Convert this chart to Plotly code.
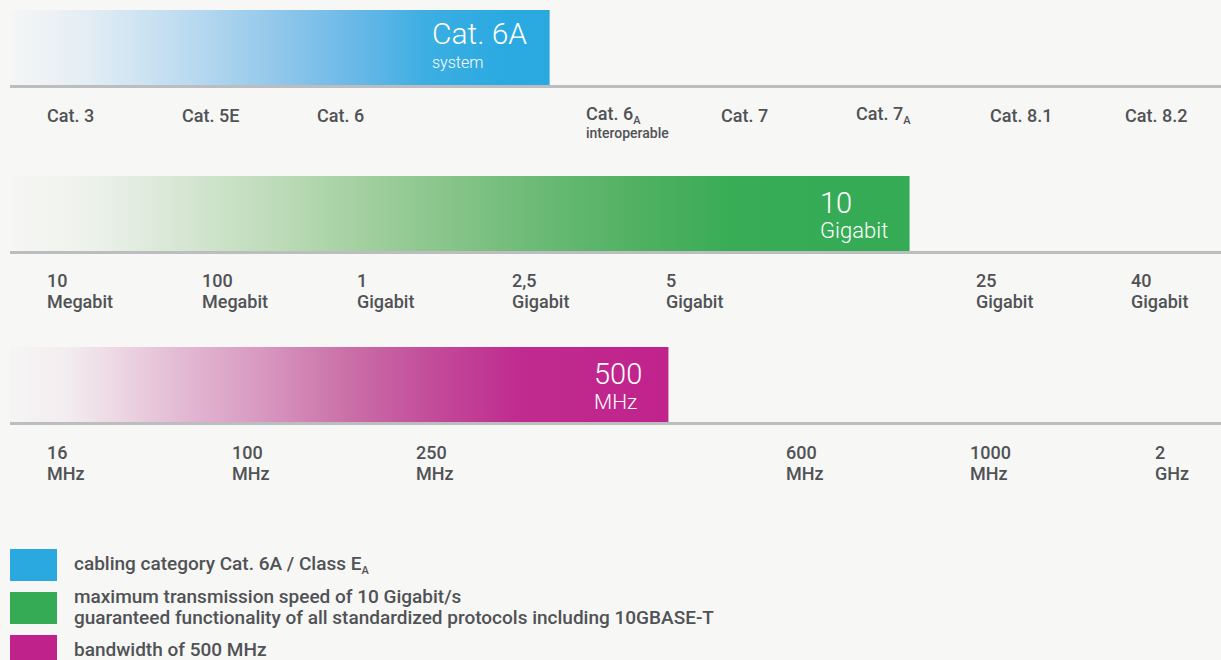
import plotly.graph_objects as go

W, H = 1221, 660
BG = '#f7f7f5'
TXT = '#505255'
FONT = 'Roboto'

# ---------------- data ----------------
# Row 1: cabling categories (slot index on the scale)
cat_slots = [0, 1, 2, 4, 5, 6, 7, 8]
cat_labels = ['Cat. 3', 'Cat. 5E', 'Cat. 6', 'Cat. 6<sub>A</sub>', 'Cat. 7',
              'Cat. 7<sub>A</sub>', 'Cat. 8.1', 'Cat. 8.2']
cat_notes = ['', '', '', 'interoperable', '', '', '', '']
cat_bar_end = 3.745
cat_bar_label = ['Cat. 6A', 'system']

# Row 2: transmission speed
speed_slots = [0, 1, 2, 3, 4, 6, 7]
speed_values = ['10', '100', '1', '2,5', '5', '25', '40']
speed_units = ['Megabit', 'Megabit', 'Gigabit', 'Gigabit', 'Gigabit', 'Gigabit', 'Gigabit']
speed_bar_end = 5.583
speed_bar_label = ['10', 'Gigabit']

# Row 3: bandwidth
bw_slots = [0, 1, 2, 4, 5, 6]
bw_values = ['16', '100', '250', '600', '1000', '2']
bw_units = ['MHz', 'MHz', 'MHz', 'MHz', 'MHz', 'GHz']
bw_bar_end = 3.376
bw_bar_label = ['500', 'MHz']

legend_texts = [
    ['cabling category Cat. 6A / Class E<sub>A</sub>'],
    ['maximum transmission speed of 10 Gigabit/s',
     'guaranteed functionality of all standardized protocols including 10GBASE-T'],
    ['bandwidth of 500 MHz'],
]

# ---------------- styles ----------------
blue_scale = [[0, '#f5f6f6'], [0.146, '#e3edf4'], [0.246, '#cde3f1'], [0.352, '#b6d8ef'],
              [0.51, '#8dc6ea'], [0.643, '#68b8e7'], [0.774, '#3caee2'], [0.907, '#2baae1'],
              [1, '#29a9e0']]
green_scale = [[0, '#f6f6f4'], [0.087, '#eef2ec'], [0.185, '#d8e7d5'], [0.315, '#b8d9b3'],
               [0.446, '#93c993'], [0.576, '#6ebb77'], [0.706, '#4eb061'], [0.804, '#38ac56'],
               [1, '#35ab55']]
pink_scale = [[0, '#f6f5f5'], [0.084, '#f3edf0'], [0.149, '#eedbe5'], [0.248, '#e4bdd6'],
              [0.38, '#d899c0'], [0.512, '#ca70a8'], [0.644, '#c24b99'], [0.775, '#c02b8f'],
              [1, '#c0238c']]
legend_colors = ['#29a9e0', '#35ab55', '#c0228c']

FIRST_PX = 47      # left edge of first scale label
START_PX = 10      # left edge of bar / baseline

rows = [
    dict(n=9, last_px=1125, top=10, bottom=85, scale=blue_scale, end=cat_bar_end,
         label=cat_bar_label, big=30, small=16, shift=-119, ybig=33, ysmall=62),
    dict(n=8, last_px=1131, top=176, bottom=251, scale=green_scale, end=speed_bar_end,
         label=speed_bar_label, big=29, small=22, shift=-91, ybig=203, ysmall=231),
    dict(n=7, last_px=1155, top=347, bottom=422, scale=pink_scale, end=bw_bar_end,
         label=bw_bar_label, big=29, small=21, shift=-75, ybig=374, ysmall=402),
]


def py(px):
    return 1 - px / H


SUB = "<sub><span style='font-size:11px'>A</span></sub>"

fig = go.Figure()
annotations = []
shapes = []
layout_axes = {}

for i, r in enumerate(rows):
    k = '' if i == 0 else str(i + 1)
    spacing = (r['last_px'] - FIRST_PX) / (r['n'] - 1)
    x_min = -(FIRST_PX - 2) / spacing
    x_max = (W - FIRST_PX + 2) / spacing
    x_start = x_min + START_PX / spacing
    layout_axes['xaxis' + k] = dict(range=[x_min, x_max], domain=[0, 1], visible=False,
                                    fixedrange=True, anchor='y' + k)
    layout_axes['yaxis' + k] = dict(range=[0, 1], domain=[py(r['bottom']), py(r['top'])],
                                    visible=False, fixedrange=True, anchor='x' + k)
    fig.add_trace(go.Scatter(
        x=[x_start, r['end'], r['end'], x_start, x_start],
        y=[0, 0, 1, 1, 0],
        xaxis='x' + k, yaxis='y' + k,
        mode='lines', line=dict(width=0),
        fill='toself',
        fillgradient=dict(type='horizontal', colorscale=r['scale']),
        hoverinfo='skip', showlegend=False,
    ))
    # baseline
    shapes.append(dict(type='line', xref='paper', yref='paper',
                       x0=START_PX / W, x1=1, y0=py(r['bottom'] + 1.5), y1=py(r['bottom'] + 1.5),
                       line=dict(color='#bcbdbf', width=3), layer='above'))
    # label inside bar (two lines, left-aligned)
    for txt, size, yc in ((r['label'][0], r['big'], r['ybig']),
                          (r['label'][1], r['small'], r['ysmall'])):
        annotations.append(dict(
            xref='x' + k, yref='paper', x=r['end'], y=py(yc),
            xanchor='left', yanchor='middle', xshift=r['shift'] - 1, showarrow=False,
            text=txt, font=dict(family=FONT, size=size, color='white', weight=300),
        ))

# Row 1 scale labels
for s, lab, note in zip(cat_slots, cat_labels, cat_notes):
    lab = lab.replace('<sub>A</sub>', SUB)
    annotations.append(dict(xref='x', yref='paper', x=s, y=py(115), xanchor='left',
                            yanchor='middle', showarrow=False, text=lab,
                            font=dict(family=FONT, size=18, color=TXT, weight=500)))
    if note:
        annotations.append(dict(xref='x', yref='paper', x=s, y=py(133), xanchor='left',
                                yanchor='middle', showarrow=False, text=note,
                                font=dict(family=FONT, size=14, color=TXT, weight=500)))

# Row 2 scale labels
for s, v, u in zip(speed_slots, speed_values, speed_units):
    annotations.append(dict(xref='x2', yref='paper', x=s, y=py(280.5), xanchor='left',
                            yanchor='middle', showarrow=False, text=v,
                            font=dict(family=FONT, size=18, color=TXT, weight=500)))
    annotations.append(dict(xref='x2', yref='paper', x=s, y=py(302), xanchor='left',
                            yanchor='middle', showarrow=False, text=u,
                            font=dict(family=FONT, size=18, color=TXT, weight=500)))

# Row 3 scale labels
for s, v, u in zip(bw_slots, bw_values, bw_units):
    annotations.append(dict(xref='x3', yref='paper', x=s, y=py(452), xanchor='left',
                            yanchor='middle', showarrow=False, text=v,
                            font=dict(family=FONT, size=18, color=TXT, weight=500)))
    annotations.append(dict(xref='x3', yref='paper', x=s, y=py(473), xanchor='left',
                            yanchor='middle', showarrow=False, text=u,
                            font=dict(family=FONT, size=18, color=TXT, weight=500)))

# Legend
legend_tops = [549, 592, 635]
legend_line_centers = [[564], [596, 617], [649]]
for col, top, lines, centers in zip(legend_colors, legend_tops, legend_texts, legend_line_centers):
    shapes.append(dict(type='rect', xref='paper', yref='paper',
                       x0=10 / W, x1=57 / W, y0=py(top + 32), y1=py(top),
                       fillcolor=col, line=dict(width=0)))
    for t, c in zip(lines, centers):
        t = t.replace('<sub>A</sub>', SUB)
        annotations.append(dict(xref='paper', yref='paper', x=72 / W, y=py(c), xanchor='left',
                                yanchor='middle', showarrow=False, text=t,
                                font=dict(family=FONT, size=19, color=TXT, weight=500)))

fig.update_layout(
    width=W, height=H,
    margin=dict(l=0, r=0, t=0, b=0),
    paper_bgcolor=BG, plot_bgcolor=BG,
    annotations=annotations, shapes=shapes,
    showlegend=False,
    **layout_axes,
)

fig.write_html("out.html", config=dict(displayModeBar=False),
               post_script="document.body.style.margin='0';document.body.style.overflow='hidden';")
